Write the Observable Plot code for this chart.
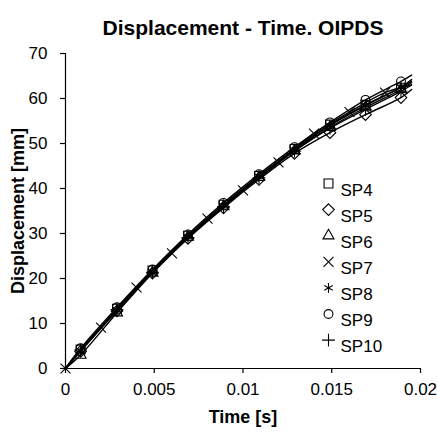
<!DOCTYPE html>
<html>
<head>
<meta charset="utf-8">
<script src="https://cdn.jsdelivr.net/npm/d3@7"></script>
<script src="https://cdn.jsdelivr.net/npm/@observablehq/plot@0.6"></script>
<style>
  body { margin: 0; background: #fff; }
  #chart svg { font-family: "Liberation Sans", Arial, sans-serif; }
</style>
</head>
<body>
<div id="chart"></div>
<script>
// ---- data ----
const seriesNames = ["SP4", "SP5", "SP6", "SP7", "SP8", "SP9", "SP10"];
const seriesSymbols = ["square", "diamond2", "triangle", "times", "asterisk", "circle", "plus"];
const symbolRadii = [5, 5.2, 4.1, 4.6, 4.6, 4.4, 4.2];

// sampling times of markers (s)
const markerTimes = [0.00085, 0.0029, 0.0049, 0.0069, 0.0089, 0.0109, 0.0129, 0.0149, 0.0169, 0.0189];
const sp7Times = [0, 0.002, 0.004, 0.006, 0.008, 0.010, 0.012, 0.014, 0.016, 0.018];
const endTime = 0.0195;

// displacement values (mm)
const sp4  = [4.2, 13.3, 21.8, 29.5, 36.4, 42.8, 48.8, 54.2, 58.6, 62.4];
const sp5  = [3.8, 12.8, 21.2, 28.9, 35.7, 42.0, 47.8, 52.4, 56.4, 60.2];
const sp6  = [3.0, 12.4, 21.2, 29.2, 36.0, 42.5, 48.4, 53.6, 58.0, 62.0];
const sp7  = [0, 9.1, 18.0, 25.6, 33.3, 39.6, 45.8, 52.2, 57.0, 61.3];
const sp8  = [4.0, 13.0, 21.5, 29.3, 36.2, 42.7, 48.6, 54.0, 58.4, 62.5];
const sp9  = [4.5, 13.6, 22.0, 29.8, 36.8, 43.2, 49.2, 54.7, 59.7, 63.8];
const sp10 = [4.1, 13.1, 21.4, 29.1, 36.0, 42.4, 48.3, 53.4, 57.6, 61.6];
const endValues = [63.8, 62.0, 63.5, 63.0, 64.2, 65.2, 63.0];

const xTicks = [0, 0.005, 0.01, 0.015, 0.02];
const yTicks = [0, 10, 20, 30, 40, 50, 60, 70];

// ---- build tables ----
const seriesValues = [sp4, sp5, sp6, sp7, sp8, sp9, sp10];
const points = [];
const lines = [];
seriesNames.forEach((name, i) => {
  const times = name === "SP7" ? sp7Times : markerTimes;
  const vals = seriesValues[i];
  if (times[0] !== 0) lines.push({series: name, t: 0, d: 0});
  times.forEach((t, j) => {
    points.push({series: name, t, d: vals[j], r: symbolRadii[i]});
    lines.push({series: name, t, d: vals[j]});
  });
  lines.push({series: name, t: endTime, d: endValues[i]});
});

const legendMarks = seriesNames.flatMap((name, i) => [
  Plot.dot([name], {frameAnchor: "top-left", dx: 263, dy: 130 + i * 26.1,
    symbol: seriesSymbols[i], r: symbolRadii[i], stroke: "black", strokeWidth: 1.1, fill: "none"}),
  Plot.text([name], {frameAnchor: "top-left", dx: 275, dy: 130 + i * 26.1,
    text: d => d, textAnchor: "start", fontSize: 17, fill: "black"})
]);

const chart = Plot.plot({
  width: 438,
  height: 435,
  marginLeft: 65,
  marginRight: 18,
  marginTop: 53,
  marginBottom: 67,
  style: {fontFamily: "Liberation Sans, Arial, sans-serif", background: "white"},
  x: {domain: [0, 0.02]},
  y: {domain: [0, 70]},
  r: {type: "identity"},
  symbol: {domain: seriesNames, range: seriesSymbols},
  marks: [
    Plot.ruleX([0], {stroke: "black", strokeWidth: 1.2}),
    Plot.ruleY([0], {stroke: "black", strokeWidth: 1.2}),
    Plot.axisX({ticks: xTicks, tickSize: 5, tickPadding: 9, fontSize: 17, label: null,
      tickFormat: d => String(d), stroke: "black", strokeWidth: 1.2}),
    Plot.axisY({ticks: yTicks, tickSize: 5, tickPadding: 13, fontSize: 17, label: null,
      stroke: "black", strokeWidth: 1.2}),
    Plot.line(lines, {x: "t", y: "d", z: "series", curve: "catmull-rom",
      stroke: "black", strokeWidth: 1.4}),
    Plot.dot(points, {x: "t", y: "d", symbol: "series", r: "r",
      stroke: "black", strokeWidth: 1.1, fill: "none"}),
    ...legendMarks,
    Plot.text(["Displacement - Time. OIPDS"], {frameAnchor: "top", dy: -33, text: d => d,
      textAnchor: "middle", fontSize: 21, fontWeight: "bold", fill: "black", letterSpacing: "1.2px"}),
    Plot.text(["Time [s]"], {frameAnchor: "bottom", dy: 54, text: d => d,
      textAnchor: "middle", fontSize: 18, fontWeight: "bold", fill: "black", letterSpacing: "0.3px"}),
    Plot.text(["Displacement [mm]"], {frameAnchor: "left", dx: -47, rotate: -90, text: d => d,
      textAnchor: "middle", fontSize: 18, fontWeight: "bold", fill: "black", letterSpacing: "0.8px"})
  ]
});
document.getElementById("chart").appendChild(chart);
</script>
</body>
</html>
